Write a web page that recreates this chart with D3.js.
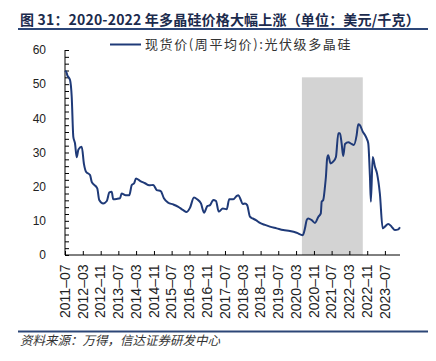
<!DOCTYPE html>
<html><head><meta charset="utf-8">
<script src="https://cdn.jsdelivr.net/npm/d3@7"></script>
<style>
html,body{margin:0;padding:0;background:#fff;}
svg{display:block;}
</style></head>
<body>
<svg id="chart" width="436" height="361"></svg>
<script>
const dates = ["2011-07-01","2011-07-15","2011-08-02","2011-09-08","2011-10-01","2011-10-23","2011-11-15","2011-12-08","2012-01-01","2012-02-15","2012-03-17","2012-04-14","2012-06-08","2012-07-01","2012-09-15","2012-10-12","2012-12-06","2013-01-24","2013-02-28","2013-04-01","2013-04-22","2013-06-08","2013-07-23","2013-08-15","2013-10-09","2013-11-28","2014-01-01","2014-02-02","2014-02-28","2014-04-23","2014-07-01","2014-08-28","2014-10-22","2014-12-09","2015-02-02","2015-03-17","2015-05-15","2015-07-22","2015-10-01","2015-12-01","2016-01-25","2016-03-08","2016-05-02","2016-06-15","2016-08-06","2016-09-17","2016-11-01","2016-12-08","2017-01-22","2017-02-28","2017-04-06","2017-06-01","2017-07-25","2017-08-28","2017-10-23","2017-12-09","2018-01-01","2018-02-03","2018-03-01","2018-04-01","2018-05-01","2018-06-08","2018-07-15","2018-08-29","2018-10-23","2019-01-01","2019-03-08","2019-06-09","2019-09-07","2019-12-08","2020-03-09","2020-06-01","2020-07-01","2020-07-24","2020-08-15","2020-10-01","2020-11-15","2021-01-01","2021-02-03","2021-02-15","2021-03-08","2021-04-01","2021-04-14","2021-05-01","2021-05-15","2021-06-17","2021-07-22","2021-08-29","2021-10-01","2021-10-23","2021-11-15","2021-12-07","2022-01-01","2022-02-15","2022-04-01","2022-05-02","2022-06-09","2022-07-01","2022-07-23","2022-09-01","2022-10-01","2022-10-24","2022-11-15","2022-12-08","2022-12-21","2023-01-15","2023-02-15","2023-03-15","2023-04-23","2023-06-01","2023-07-01","2023-08-15","2023-10-01","2023-11-15","2024-01-01","2024-01-23"];
const prices = [53.6,53.8,52.6,51.2,46.3,34.6,32.7,28.6,30.9,31.7,26.6,24.4,23.4,21.4,19.5,16.1,15.1,15.8,18.3,18.5,16.3,16.4,16.6,18.0,17.5,17.5,20.5,21.0,22.4,21.7,21.0,20.4,20.5,19.0,18.7,16.6,15.3,14.8,14.1,13.2,12.6,13.8,16.8,16.3,15.1,12.4,14.3,14.6,16.1,15.8,12.7,13.6,13.4,16.3,16.3,17.3,17.5,16.1,14.9,15.1,14.6,11.2,10.7,10.2,9.4,8.8,8.3,7.8,7.3,7.0,6.5,5.8,7.8,10.2,10.7,10.2,9.4,11.2,12.2,15.6,16.1,20.0,22.9,28.3,29.2,26.8,27.3,28.7,35.6,35.6,32.7,29.0,32.5,33.0,32.5,32.2,35.1,38.3,38.0,36.1,35.1,34.1,32.7,22.9,15.6,28.7,25.8,23.9,18.0,7.8,8.3,9.1,8.3,7.3,7.5,8.1];
const bandPeriod = ["2020-05-20","2022-09-01"];
const bandValue = 52;
const xTickLabels = ["2011-07","2012-03","2012-11","2013-07","2014-03","2014-11","2015-07","2016-03","2016-11","2017-07","2018-03","2018-11","2019-07","2020-03","2020-11","2021-07","2022-03","2022-11","2023-07"];
const yTicks = [0,10,20,30,40,50,60];
const xDomain = ["2011-07-01","2024-01-24"];
const titleText = "图 31：2020-2022 年多晶硅价格大幅上涨（单位：美元/千克）";
const legendText = "现货价(周平均价):光伏级多晶硅";
const sourceText = "资料来源：万得，信达证券研发中心";

const parse = d3.timeParse("%Y-%m-%d");
const parseM = d3.timeParse("%Y-%m");
const data = dates.map((d,i)=>({date:parse(d), v:prices[i]}));

const svg = d3.select("#chart");
const L=65, R=400, T=50, B=255;
const x = d3.scaleTime().domain(xDomain.map(parse)).range([L,R]);
const y = d3.scaleLinear().domain([0,60]).range([B,T]);
const navy = "#1f3a78";
const cjk = "'Noto Sans CJK SC','Noto Sans',sans-serif";

// title
svg.append("text").attr("x",20).attr("y",24.5)
  .attr("font-family",cjk).attr("font-weight","bold").attr("font-size",14)
  .attr("letter-spacing","0.18px")
  .attr("fill","#1c2b4d").text(titleText);
svg.append("line").attr("x1",18).attr("x2",428).attr("y1",29).attr("y2",29)
  .attr("stroke","#2c4677").attr("stroke-width",2);

// band
svg.append("rect")
  .attr("x",x(parse(bandPeriod[0]))).attr("y",y(bandValue))
  .attr("width",x(parse(bandPeriod[1]))-x(parse(bandPeriod[0])))
  .attr("height",y(0)-y(bandValue)).attr("fill","#d3d3d3");

// y axis
const yAxis = d3.axisRight(y).tickValues(d3.range(0,61,2)).tickSize(4)
  .tickFormat("");
const gy = svg.append("g").attr("transform",`translate(${L},0)`).call(yAxis);
gy.select(".domain").attr("d",`M0,${T}V${B}`).attr("stroke","#000");
gy.selectAll(".tick line").attr("stroke","#000");
svg.append("g").selectAll("text").data(yTicks).join("text")
  .attr("x",46).attr("y",d=>y(d)+4.3).attr("text-anchor","end")
  .attr("font-family","'Liberation Sans',Arial,sans-serif").attr("font-size",12)
  .attr("fill","#222").text(d=>d);

// x axis
const xt = xTickLabels.map(parseM);
const xAxis = d3.axisTop(x).tickValues(xt).tickSize(4).tickFormat("");
const gx = svg.append("g").attr("transform",`translate(0,${B})`).call(xAxis);
gx.select(".domain").attr("d",`M${L},0H${R}`).attr("stroke","#000");
gx.selectAll(".tick line").attr("stroke","#000");
svg.append("g").selectAll("text").data(xTickLabels).join("text")
  .attr("transform",(d,i)=>`translate(${x(xt[i])+4.8},264.5) rotate(-90)`)
  .attr("text-anchor","end")
  .attr("font-family","'Liberation Sans',Arial,sans-serif").attr("font-size",14)
  .attr("fill","#222").text(d=>d.replace("-","–"));

// line
svg.append("path").datum(data)
  .attr("d",d3.line().x(d=>x(d.date)).y(d=>y(d.v)).curve(d3.curveMonotoneX))
  .attr("fill","none").attr("stroke",navy).attr("stroke-width",2);

// legend
svg.append("line").attr("x1",110).attr("x2",141).attr("y1",44.5).attr("y2",44.5)
  .attr("stroke",navy).attr("stroke-width",2);
svg.append("text").attr("x",145).attr("y",49)
  .attr("font-family",cjk).attr("font-size",13).attr("letter-spacing","1.6px")
  .attr("fill","#333").text(legendText);

// footer
svg.append("line").attr("x1",18).attr("x2",428).attr("y1",331.5).attr("y2",331.5)
  .attr("stroke","#2c4677").attr("stroke-width",2);
svg.append("text").attr("x",20).attr("y",345)
  .attr("font-family",cjk).attr("font-size",12.5).attr("font-style","italic")
  .attr("fill","#333").text(sourceText);
</script>
</body></html>
